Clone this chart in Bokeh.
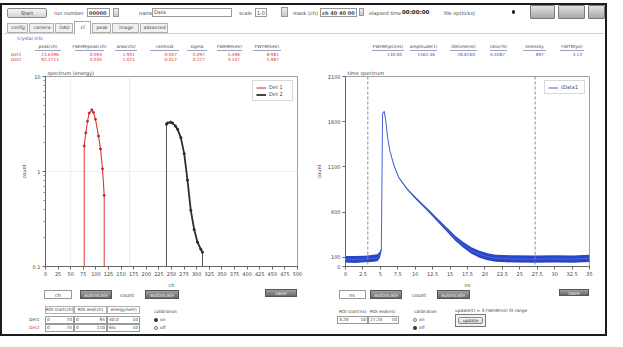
from bokeh.plotting import figure
from bokeh.layouts import row, column
from bokeh.models import (Div, FixedTicker, Span, Legend, LegendItem,
                          ColumnDataSource, BasicTickFormatter)
from bokeh.embed import file_html
from bokeh.resources import INLINE

FONT = "DejaVu Sans"
RED = "#e03434"
BLACK = "#2e2e2e"
BLUE = "#2444d4"
TXT = "#444444"

# ---------------- left: energy spectrum (log counts vs channel) ----------------
ch_range = (0, 500)
cnt_range = (0.1, 10)
ch_ticks = [0, 25, 50, 75, 100, 125, 150, 175, 200, 225, 250, 275, 300, 325,
            350, 375, 400, 425, 450, 475, 500]
cnt_ticks = [0.1, 1, 10]
cnt_tick_labels = ["0.1", "1", "10"]
cnt_minor = [0.2, 0.3, 0.4, 0.5, 0.6, 0.7, 0.8, 0.9, 2, 3, 4, 5, 6, 7, 8, 9]

det1_ch = [76.8, 80.0, 83.3, 86.7, 91.9, 95.2, 99.2, 105.2, 109.1, 113.1, 116.5]
det1_cnt = [1.86, 2.55, 3.38, 4.12, 4.46, 4.19, 3.54, 2.36, 1.73, 1.07, 0.56]
det2_ch = [240.1, 242.1, 248.0, 252.0, 257.9, 261.9, 268.5, 275.2, 281.7,
           288.3, 295.0, 301.6, 308.1, 311.5]
det2_cnt = [3.14, 3.24, 3.30, 3.24, 3.00, 2.79, 2.27, 1.54, 0.81, 0.39,
            0.245, 0.18, 0.152, 0.141]
roi_ch_marks = [50, 167]
det_labels = ["Det 1", "Det 2"]

# ---------------- right: time spectrum ----------------
t_range = (0, 35)
c_range = (0, 2100)
t_ticks = [0, 2.5, 5, 7.5, 10, 12.5, 15, 17.5, 20, 22.5, 25, 27.5, 30, 32.5, 35]
t_tick_labels = ["0", "2.5", "5", "7.5", "10", "12.5", "15", "17.5", "20",
                 "22.5", "25", "27.5", "30", "32.5", "35"]
c_ticks = [0, 100, 600, 1100, 1600, 2100]
t_ns = [0.0, 1.39, 2.78, 3.75, 4.58, 4.93, 5.14, 5.32, 5.56, 5.79, 6.01, 6.35,
        6.94, 7.64, 8.79, 9.96, 11.11, 12.26, 13.43, 14.58, 15.74, 16.90,
        18.06, 19.21, 20.38, 21.53, 24.31, 27.08, 29.86, 32.64, 35.0]
cnt_t = [81, 77, 84, 88, 97, 129, 183, 1694, 1712, 1605, 1443, 1282, 1120, 983,
         861, 764, 678, 589, 495, 404, 312, 240, 178, 135, 108, 91, 83, 81, 84,
         81, 91]
noise_t = [36, 38, 36, 38, 38, 36, 24, 6, 6, 6, 6, 6, 7, 8, 10, 12, 14, 16, 20,
           24, 28, 32, 36, 38, 38, 38, 40, 40, 40, 40, 40]
roi_ns = [3.2, 27.2]
t_series_label = "tData1"

# ---------------- UI texts ----------------
tab_names = ["config", "camera", "DAQ", "LT", "peak", "image", "advanced"]
left_heads = ["peak(ch)", "FWHM/peak(ch)", "area(cts)", "centroid", "sigma",
              "FWHM(keV)", "FWTM(keV)"]
left_row1 = ["23.6396", "0.093", "1.901", "-0.007", "0.097", "5.496", "8.981"]
left_row2 = ["92.2711", "0.034", "1.021", "-0.012", "0.227", "3.147", "5.987"]
right_heads = ["FWHM(ps)(ns)", "amplitude(1)", "lifetime(ns)", "ratio(%)",
               "intensity", "FWTM(ps)"]
right_vals = ["130.00", "1562.46", "28.8260", "0.4087", "897", "3.13"]


def style_fig(p):
    p.outline_line_color = "#a0a0a0"
    p.background_fill_color = "white"
    p.border_fill_color = "white"
    p.title.text_font_size = "5px"
    p.title.text_font = FONT
    p.title.text_font_style = "normal"
    p.title.text_color = TXT
    p.title.align = "left"
    p.title.offset = 2
    p.title.standoff = 1
    for ax in p.axis:
        ax.axis_line_color = "#666666"
        ax.major_tick_line_color = "#666666"
        ax.minor_tick_line_color = "#888888"
        ax.major_tick_out = 3
        ax.major_tick_in = 0
        ax.minor_tick_out = 2
        ax.minor_tick_in = 0
        ax.major_label_text_font_size = "5px"
        ax.major_label_text_font = FONT
        ax.major_label_text_color = TXT
        ax.major_label_standoff = 2
        ax.axis_label_text_font_size = "5px"
        ax.axis_label_text_font = FONT
        ax.axis_label_text_font_style = "normal"
        ax.axis_label_text_color = TXT
        ax.axis_label_standoff = 3


# ---------------- left figure ----------------
pL = figure(width=310, height=226, x_range=ch_range, y_range=cnt_range,
            y_axis_type="log", output_backend="svg", toolbar_location=None,
            min_border_left=43, min_border_right=15, min_border_top=12,
            min_border_bottom=20, title="spectrum (energy)")
style_fig(pL)
pL.xaxis.ticker = FixedTicker(ticks=ch_ticks)
pL.xaxis.axis_label = "ch"
pL.xaxis.minor_tick_line_color = None
pL.yaxis.ticker = FixedTicker(ticks=cnt_ticks, minor_ticks=cnt_minor)
pL.yaxis.formatter = BasicTickFormatter()
pL.yaxis.major_label_overrides = dict(zip(cnt_ticks, cnt_tick_labels))
pL.yaxis.axis_label = "count"
pL.xgrid.grid_line_color = None
pL.ygrid.grid_line_color = "#f0f0f0"

for m in roi_ch_marks:
    pL.add_layout(Span(location=m, dimension="height", line_color="#f8e6e6",
                       line_width=1))

pL.segment(x0=[det1_ch[0], det1_ch[-1], det2_ch[0], det2_ch[-1]],
           y0=[cnt_range[0]] * 4,
           x1=[det1_ch[0], det1_ch[-1], det2_ch[0], det2_ch[-1]],
           y1=[det1_cnt[0], det1_cnt[-1], det2_cnt[0], det2_cnt[-1]],
           line_color=[RED, RED, "#555555", "#555555"], line_width=1)
l1 = pL.line(det1_ch, det1_cnt, line_color=RED, line_width=1.1)
pL.scatter(det1_ch, det1_cnt, size=2, color="#b03030")
l2 = pL.line(det2_ch, det2_cnt, line_color=BLACK, line_width=1.8)
pL.scatter(det2_ch, det2_cnt, size=2.2, color=BLACK)

legL = Legend(items=[LegendItem(label=det_labels[0], renderers=[l1]),
                     LegendItem(label=det_labels[1], renderers=[l2])],
              location="top_right")

# ---------------- right figure ----------------
pR = figure(width=293, height=226, x_range=t_range, y_range=c_range,
            output_backend="svg", toolbar_location=None,
            min_border_left=25, min_border_right=16, min_border_top=12,
            min_border_bottom=20, title="time spectrum")
style_fig(pR)
pR.xaxis.ticker = FixedTicker(ticks=t_ticks)
pR.xaxis.major_label_overrides = dict(zip(t_ticks, t_tick_labels))
pR.xaxis.axis_label = "ns"
pR.yaxis.ticker = FixedTicker(ticks=c_ticks)
pR.yaxis.axis_label = "count"
pR.xgrid.grid_line_color = None
pR.ygrid.grid_line_color = None

for m in roi_ns:
    pR.add_layout(Span(location=m, dimension="height", line_color="#8c8c8c",
                       line_width=1, line_dash="3 2"))

src = ColumnDataSource(dict(
    t=t_ns, c=cnt_t,
    lo=[c - n for c, n in zip(cnt_t, noise_t)],
    hi=[c + n for c, n in zip(cnt_t, noise_t)]))
pR.varea(x="t", y1="lo", y2="hi", source=src, fill_color="#1e3cc8",
         fill_alpha=0.95)
l3 = pR.line("t", "c", source=src, line_color="#4a64d8", line_width=1)

legR = Legend(items=[LegendItem(label=t_series_label, renderers=[l3])],
              location="top_right")

for p, lg in [(pL, legL), (pR, legR)]:
    lg.label_text_font_size = "5px"
    lg.label_text_font = FONT
    lg.label_text_color = TXT
    lg.label_height = 5
    lg.glyph_height = 5
    lg.glyph_width = 10
    lg.label_standoff = 3
    lg.spacing = 1
    lg.padding = 3
    lg.margin = 4
    lg.border_line_color = "#b4b4b4"
    lg.background_fill_color = "white"
    p.add_layout(lg)


# ---------------- HTML chrome ----------------
def box(o, x, y, w, h, css):
    return ('<div style="position:absolute;left:%gpx;top:%gpx;width:%gpx;'
            'height:%gpx;box-sizing:border-box;%s"></div>'
            % (x - o[0], y - o[1], w, h, css))


def txt(o, x, y, s, size=5, color=TXT, bold=False, anchor="left", w=60):
    top = y - o[1] - (size + 1) / 2.0
    if anchor == "left":
        pos = "left:%gpx;" % (x - o[0])
    elif anchor == "right":
        pos = "left:%gpx;width:%gpx;text-align:right;" % (x - o[0] - w, w)
    else:
        pos = "left:%gpx;width:%gpx;text-align:center;" % (x - o[0] - w / 2.0, w)
    return ('<div style="position:absolute;%stop:%gpx;font-family:\'%s\',sans-serif;'
            'font-size:%gpx;line-height:%gpx;font-weight:%s;color:%s;'
            'white-space:nowrap">%s</div>'
            % (pos, top, FONT, size, size + 1, "bold" if bold else "normal",
               color, s))


def wrap(w, h, items):
    return ('<div style="position:relative;width:%dpx;height:%dpx;overflow:visible">%s</div>'
            % (w, h, "".join(items)))


FIELD = "background:#fff;border:1px solid #9a9a9a;"
LBTN = "background:linear-gradient(#f6f6f6,#d4d4d4);border:1px solid #8a8a8a;border-radius:2px;"
GBTN = "background:linear-gradient(#e2e2e2,#a8a8a8);border:1px solid #7a7a7a;border-radius:1px;"
DBTN = "background:linear-gradient(#a0a0a0,#6a6a6a);border:1px solid #555;"
SPIN = "background:linear-gradient(#f0f0f0,#c8c8c8);border:1px solid #999;"
FRAME = "background:#1c1c1c;"

# top div (page origin 10,8)
o = (10, 8)
top = [box(o, 10, 11, 603, 2, FRAME),
       box(o, 15, 16, 40, 10, LBTN), txt(o, 35, 21, "Start", anchor="c", w=40),
       txt(o, 62, 21, "run number"), box(o, 95, 16, 23, 9, FIELD),
       txt(o, 97, 20.5, "00000", bold=True), box(o, 121, 16, 6, 9, SPIN),
       txt(o, 147, 21, "name"), box(o, 160, 15.5, 80, 9, FIELD),
       txt(o, 162, 20, "Data"),
       txt(o, 247, 21, "scale"), box(o, 263, 16, 12, 9, FIELD),
       txt(o, 265, 20.5, "1.0"), box(o, 289, 15, 7, 10, SPIN),
       txt(o, 301, 21, "mask (ch)"), box(o, 328, 16, 37, 9, FIELD),
       txt(o, 330, 20.5, "ch 40 40 00", bold=True), box(o, 367, 16, 5, 8, SPIN),
       txt(o, 377, 21, "elapsed time"),
       txt(o, 410, 20.5, "00:00:00", size=5.5, bold=True, color="#222"),
       txt(o, 452, 21, "file op(ticks)"),
       box(o, 520, 18, 3, 4, "background:#111;border-radius:50%;"),
       box(o, 538, 13, 25, 14, GBTN), box(o, 566, 13, 27, 14, GBTN),
       box(o, 596, 13, 17, 14, GBTN),
       box(o, 12, 41, 600, 1, "background:#d0d0d0;")]
tab_x = [15, 37, 63, 82, 100, 120, 148, 177]
for i, name in enumerate(tab_names):
    x0, x1 = tab_x[i], tab_x[i + 1]
    if name == "LT":
        top.append(box(o, x0, 29, x1 - x0 - 1, 13,
                       "background:#fff;border:1px solid #a8a8a8;border-bottom:none;"))
    else:
        top.append(box(o, x0, 31, x1 - x0 - 1, 10,
                       "background:#f0f0f0;border:1px solid #b0b0b0;"))
    top.append(txt(o, (x0 + x1) / 2.0, 36, name, size=4.5, anchor="c",
                   w=x1 - x0))
top.append(txt(o, 25, 47, "Crystal Info", size=4.5, color="#3b5bd0"))
lh_x = [(45, 67), (85, 110), (125, 143), (160, 185), (197, 213), (227, 248),
        (263, 287)]
for (a, b), h, v1, v2 in zip(lh_x, left_heads, left_row1, left_row2):
    top.append(txt(o, (a + b) / 2.0, 55, h, size=4.3, anchor="c", w=40))
    top.append(box(o, a - 2, 57.5, b - a + 4, 0.6, "background:#9aa0c0;"))
    top.append(txt(o, b, 63, v1, size=4.3, color=RED, anchor="right"))
    top.append(txt(o, b, 68, v2, size=4.3, color=RED, anchor="right"))
top.append(txt(o, 19, 63, "Det1", size=4.3, color=RED))
top.append(txt(o, 19, 68, "Det2", size=4.3, color=RED))
rh_x = [(382, 410), (420, 443), (460, 483), (500, 513), (533, 552), (570, 590)]
for (a, b), h, v in zip(rh_x, right_heads, right_vals):
    top.append(txt(o, (a + b) / 2.0, 55, h, size=4.3, anchor="c", w=40))
    top.append(box(o, a - 2, 57.5, b - a + 4, 0.6, "background:#9aa0c0;"))
    top.append(txt(o, b, 63, v, size=4.3, color="#3b5bd0", anchor="right"))
top_div = Div(text=wrap(603, 64, top), width=603, height=64, margin=0,
              styles={"overflow": "visible"})

# bottom div (page origin 10,298)
o = (10, 298)
bot = [box(o, 52, 298, 28, 9, FIELD), txt(o, 66, 302.5, "ch", anchor="c", w=28),
       box(o, 88, 298, 32, 9, DBTN), txt(o, 104, 302.5, "autoscale", color="#eee", anchor="c", w=32),
       txt(o, 128, 303, "count"),
       box(o, 153, 298, 34, 9, DBTN), txt(o, 170, 302.5, "autoscale", color="#eee", anchor="c", w=34),
       box(o, 273, 297, 32, 8, DBTN), txt(o, 289, 301, "save", color="#eee", anchor="c", w=32),
       box(o, 347, 298, 27, 9, FIELD), txt(o, 360, 302.5, "ns", anchor="c", w=27),
       box(o, 378, 298, 32, 9, DBTN), txt(o, 394, 302.5, "autoscale", color="#eee", anchor="c", w=32),
       txt(o, 420, 303, "count"),
       box(o, 445, 298, 33, 9, DBTN), txt(o, 461, 302.5, "autoscale", color="#eee", anchor="c", w=33),
       box(o, 567, 297, 30, 7, DBTN), txt(o, 582, 300.5, "save", color="#eee", anchor="c", w=30),
       box(o, 10, 342, 603, 2, FRAME)]
# left ROI table
cols = [(53, 29), (82, 33), (115, 33)]
heads = ["ROI start(ch)", "ROI end(ch)", "energy(keV)"]
rows_txt = [[("0", "70"), ("0", "95"), ("40.0", "10")],
            [("0", "75"), ("0", "110"), ("6lo", "10")]]
for (x, w), h in zip(cols, heads):
    bot.append(box(o, x, 314, w, 8, "border:1px solid #b0b0b0;background:#fff;"))
    bot.append(txt(o, x + w / 2.0, 318, h, size=4.3, anchor="c", w=w))
for ri, yy in enumerate([324, 332]):
    for (x, w), (a, b) in zip(cols, rows_txt[ri]):
        bot.append(box(o, x, yy, w, 8, FIELD))
        bot.append(txt(o, x + 2, yy + 4, a, size=4.3))
        bot.append(txt(o, x + w - 2, yy + 4, b, size=4.3, anchor="right", w=20))
bot.append(txt(o, 37, 328, "Det1", size=4.3))
bot.append(txt(o, 37, 336, "Det2", size=4.3, color=RED))
bot.append(txt(o, 162, 320, "calibration", size=4.3))
bot.append(box(o, 162, 326, 4, 4, "background:#333;border-radius:50%;"))
bot.append(txt(o, 168, 328, "on", size=4.3))
bot.append(box(o, 162, 334, 4, 4, "border:1px solid #777;border-radius:50%;"))
bot.append(txt(o, 168, 336, "off", size=4.3))
# right ROI table
bot.append(txt(o, 347, 320, "ROI start(ns)", size=4.3))
bot.append(txt(o, 378, 320, "ROI end(ns)", size=4.3))
for x, a in [(345, "%.2f" % roi_ns[0]), (376, "%.2f" % roi_ns[1])]:
    bot.append(box(o, x, 324, 31, 8, FIELD))
    bot.append(txt(o, x + 2, 328, a, size=4.3))
    bot.append(txt(o, x + 29, 328, "10", size=4.3, anchor="right", w=20))
bot.append(txt(o, 422, 320, "calibration", size=4.3))
bot.append(box(o, 421, 326, 4, 4, "border:1px solid #777;border-radius:50%;"))
bot.append(txt(o, 427, 328, "on", size=4.3))
bot.append(box(o, 421, 334, 4, 4, "background:#333;border-radius:50%;"))
bot.append(txt(o, 427, 336, "off", size=4.3))
bot.append(txt(o, 463, 319, "update(t) = 3 FWHM(ns) fit range", size=4.3))
bot.append(box(o, 463, 322, 31, 13, "border:1px solid #777;background:#f2f2f2;"))
bot.append(box(o, 466, 325, 25, 7, LBTN))
bot.append(txt(o, 478.5, 328.5, "update", size=4.3, anchor="c", w=25))
bot_div = Div(text=wrap(603, 46, bot), width=603, height=46, margin=0,
              styles={"overflow": "visible"})

bar_html = ('<div style="position:relative;width:2px;height:336px">'
            '<div style="position:absolute;left:0;top:3px;width:2px;height:333px;'
            'background:#1c1c1c"></div></div>')
left_bar = Div(text=bar_html, width=2, height=336, margin=0)
right_bar = Div(text=bar_html, width=2, height=336, margin=0)

layout = row(left_bar,
             column(top_div, row(pL, pR, spacing=0), bot_div, spacing=0),
             right_bar, spacing=0)

open("out.html", "w").write(file_html(layout, INLINE))
